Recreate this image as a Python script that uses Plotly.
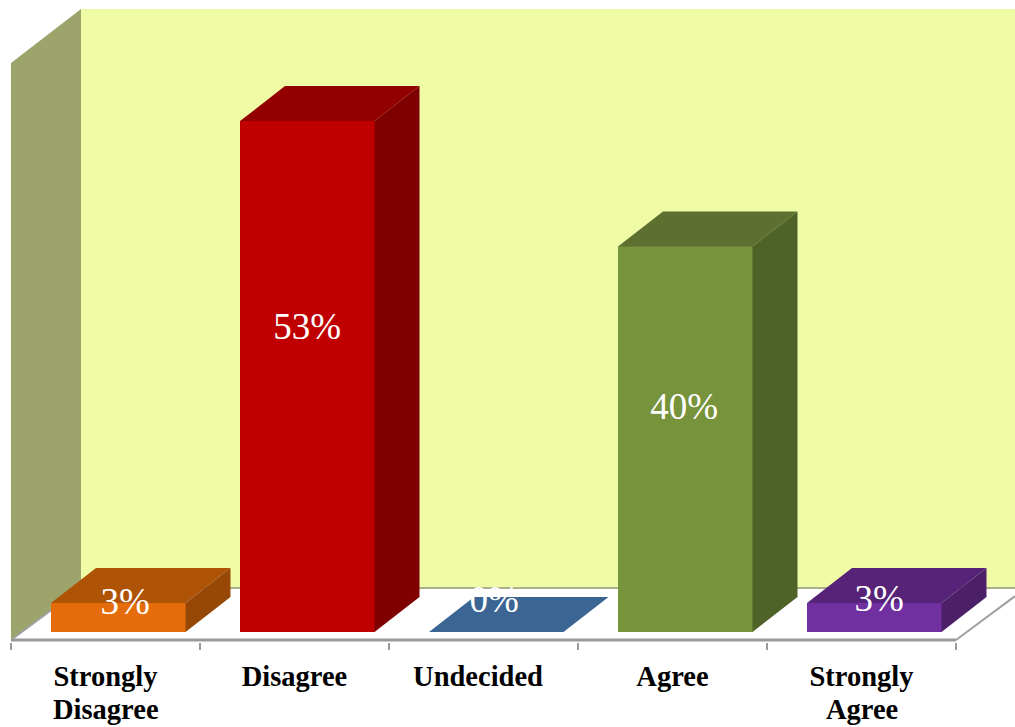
import plotly.graph_objects as go

# ---- data ----
categories = ["Strongly", "Disagree", "Undecided", "Agree", "Strongly"]
categories_line2 = ["Disagree", "", "", "", "Agree"]
values = [3, 53, 0, 40, 3]
labels = ["3%", "53%", "0%", "40%", "3%"]

# ---- colours ----
front_colors = ["#E46C0A", "#C00000", "#3B6593", "#77933C", "#7030A0"]
top_colors = ["#AF5407", "#930000", "#3B6593", "#5D7030", "#572378"]
side_colors = ["#974806", "#7F0000", "#2F5070", "#4F6228", "#4B2069"]

# ---- geometry in axis units (x: category slots, y: percent) ----
W, H = 1015, 727
PX_SLOT = 189.0
PX_PCT = 9.64
X0_PX = 11.0
Y0_PX = 632.0
AXIS_PX = 640.0
PLOT_BOTTOM_PX = 642
x_range = [-X0_PX / PX_SLOT, (W - X0_PX) / PX_SLOT]
y_low = -(AXIS_PX - Y0_PX) / PX_PCT
y_range = [-(PLOT_BOTTOM_PX - Y0_PX) / PX_PCT, Y0_PX / PX_PCT]

bar_w = 134.5 / PX_SLOT
bar_off = 40 / PX_SLOT
bar_dx, bar_dy = 45 / PX_SLOT, 35 / PX_PCT
wall_dx, wall_dy = 70 / PX_SLOT, 52 / PX_PCT
wall_front_top = y_low + 577 / PX_PCT
wall_back_top = y_low + 631 / PX_PCT
n = len(categories)

fig = go.Figure()

centers = [i + bar_off + bar_w / 2 for i in range(n)]
fig.add_trace(go.Bar(x=centers, y=values, width=bar_w, marker=dict(color=front_colors, line_width=0),
                     hoverinfo="skip", showlegend=False))

for i, v in enumerate(values):
    l = i + bar_off
    r = l + bar_w
    fig.add_trace(go.Scatter(
        x=[l, r, r + bar_dx, l + bar_dx, l], y=[v, v, v + bar_dy, v + bar_dy, v],
        mode="lines", fill="toself", fillcolor=top_colors[i], line=dict(width=0),
        hoverinfo="skip", showlegend=False))
    if v > 0:
        fig.add_trace(go.Scatter(
            x=[r, r + bar_dx, r + bar_dx, r, r], y=[0, bar_dy, v + bar_dy, v, 0],
            mode="lines", fill="toself", fillcolor=side_colors[i], line=dict(width=0),
            hoverinfo="skip", showlegend=False))

# percent labels, placed relative to each bar
label_dx = [7, 0, -2, -1, 5]
label_dy = [1.35, 4.85, 3.05, 3.1, 1.65]
fig.add_trace(go.Scatter(
    x=[c + d / PX_SLOT for c, d in zip(centers, label_dx)],
    y=[v / 2 + d for v, d in zip(values, label_dy)],
    mode="text", text=labels, textposition="middle center",
    textfont=dict(family="Liberation Serif", size=37, color="white"),
    hoverinfo="skip", showlegend=False))

# walls and floor
x_r = x_range[1]
def poly(pts):
    return "M " + " L ".join(f"{a} {b}" for a, b in pts) + " Z"

shapes = [
    dict(type="path", layer="below", xref="x", yref="y", line_width=0, fillcolor="#F0FBA5",
         path=poly([(wall_dx, y_low + wall_dy), (x_r, y_low + wall_dy), (x_r, wall_back_top), (wall_dx, wall_back_top)])),
    dict(type="path", layer="below", xref="x", yref="y", line_width=0, fillcolor="#9CA36B",
         path=poly([(0, y_low), (wall_dx, y_low + wall_dy), (wall_dx, wall_back_top), (0, wall_front_top)])),
    dict(type="line", layer="below", xref="x", yref="y", x0=wall_dx, x1=x_r, y0=y_low + wall_dy, y1=y_low + wall_dy,
         line=dict(color="#ABAE8A", width=2)),
    dict(type="line", layer="below", xref="x", yref="y", x0=0, x1=wall_dx, y0=y_low, y1=y_low + wall_dy,
         line=dict(color="#A0A0A0", width=2)),
    dict(type="line", layer="below", xref="x", yref="y", x0=n, x1=x_r, y0=y_low, y1=y_low + (x_r - n) * wall_dy / wall_dx,
         line=dict(color="#A0A0A0", width=2)),
    dict(type="line", layer="above", xref="x", yref="y", x0=0, x1=n, y0=y_low, y1=y_low,
         line=dict(color="#999999", width=3)),
]

label_shift = [0, 0, -5.5, 0, 0]
cat_font = dict(family="Liberation Serif", size=28.5, color="black", weight="bold")
tick_pos = [i + 0.5 + s / PX_SLOT for i, s in enumerate(label_shift)]
annots = [dict(x=p, y=y_low, xref="x", yref="y", text=t, showarrow=False, yanchor="top", xanchor="center",
               yshift=-52, font=cat_font)
          for p, t in zip(tick_pos, categories_line2) if t]

fig.update_layout(
    width=W, height=H, margin=dict(l=0, r=0, t=0, b=H - PLOT_BOTTOM_PX, pad=0),
    paper_bgcolor="white", plot_bgcolor="white", showlegend=False, shapes=shapes, bargap=0,
    annotations=annots,
    xaxis=dict(range=x_range, showgrid=False, zeroline=False, showline=False,
               tickmode="array", tickvals=tick_pos, ticktext=categories,
               ticks="", ticklabelstandoff=14,
               tickfont=cat_font,
               minor=dict(tickmode="array", tickvals=list(range(n + 1)), ticks="outside", ticklen=7,
                          tickwidth=2, tickcolor="#999999", showgrid=False)),
    yaxis=dict(range=y_range, visible=False, showgrid=False, zeroline=False),
)

fig.write_html("out.html", config=dict(displayModeBar=False),
               post_script="document.body.style.margin='0';document.body.style.overflow='hidden';")
